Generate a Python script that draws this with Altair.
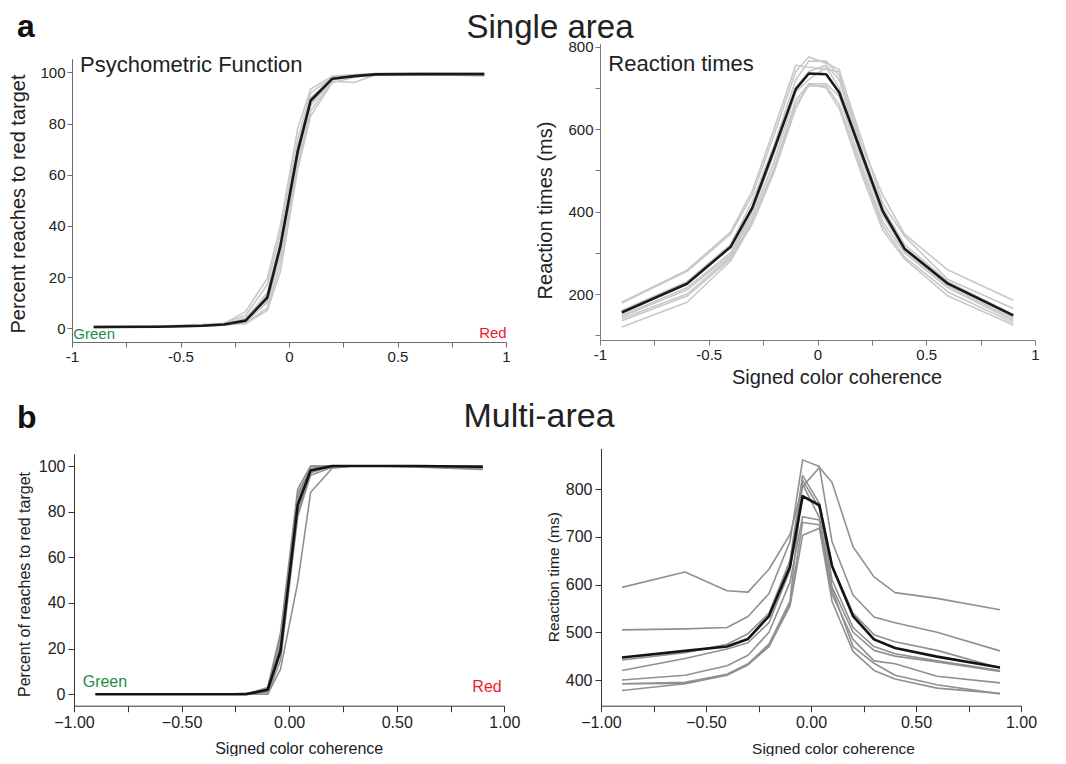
import altair as alt
import pandas as pd

# ---------------- data ----------------
coherence = [-0.9, -0.6, -0.4, -0.3, -0.2, -0.1, -0.04, 0.04, 0.1, 0.2, 0.3, 0.4, 0.6, 0.9]
x_tick_values = [-1, -0.75, -0.5, -0.25, 0, 0.25, 0.5, 0.75, 1]

# a: single area, psychometric function (percent reaches to red target)
psy_single_mean = [0.5, 0.6, 1.0, 1.5, 3.0, 12.0, 32.0, 69.0, 89.0, 97.5, 98.5, 99.2, 99.3, 99.3]
psy_single_s1 = [0.3, 0.5, 1.2, 1.8, 6.5, 19.5, 40.0, 78.0, 93.5, 98.5, 99.0, 99.5, 99.5, 99.6]
psy_single_s2 = [0.8, 0.9, 1.5, 2.0, 5.0, 17.0, 37.0, 74.0, 92.0, 98.0, 99.0, 99.4, 99.5, 99.5]
psy_single_s3 = [0.4, 0.5, 0.9, 1.2, 2.0, 8.0, 25.0, 63.0, 85.0, 96.5, 96.0, 99.0, 99.2, 98.6]
psy_single_s4 = [0.6, 0.7, 1.1, 1.6, 2.5, 10.0, 28.0, 66.0, 87.0, 97.0, 98.5, 99.3, 99.0, 99.2]
psy_single_s5 = [0.5, 0.4, 0.8, 1.3, 3.5, 14.0, 34.0, 71.0, 90.0, 97.5, 98.8, 99.0, 99.4, 99.0]
psy_single_s6 = [0.7, 0.6, 1.0, 1.4, 1.8, 7.0, 22.0, 62.0, 83.0, 96.0, 98.0, 99.2, 99.3, 99.5]
psy_single_s7 = [0.2, 0.6, 0.9, 1.7, 3.0, 11.0, 33.0, 70.0, 89.5, 97.8, 98.6, 99.5, 99.6, 99.4]
psy_single_s8 = [0.5, 0.8, 1.3, 1.5, 4.0, 13.0, 30.0, 68.0, 88.0, 97.2, 98.4, 99.1, 99.2, 98.8]

# a: single area, reaction times (ms)
rt_single_mean = [155, 225, 314, 409, 550, 697, 735, 733, 689, 545, 401, 310, 225, 148]
rt_single_s1 = [180, 258, 350, 450, 600, 755, 750, 745, 740, 580, 420, 340, 235, 165]
rt_single_s2 = [178, 255, 345, 440, 585, 740, 775, 760, 745, 565, 440, 345, 258, 185]
rt_single_s3 = [160, 230, 320, 425, 560, 720, 765, 765, 730, 555, 410, 320, 230, 150]
rt_single_s4 = [148, 215, 300, 400, 540, 700, 740, 755, 720, 540, 395, 310, 225, 145]
rt_single_s5 = [145, 210, 295, 390, 520, 690, 720, 750, 700, 530, 390, 305, 220, 140]
rt_single_s6 = [140, 200, 290, 380, 505, 670, 710, 710, 680, 515, 375, 300, 215, 135]
rt_single_s7 = [135, 195, 285, 375, 500, 660, 705, 705, 660, 505, 365, 290, 205, 130]
rt_single_s8 = [120, 180, 280, 370, 495, 650, 710, 700, 650, 495, 355, 285, 195, 125]

# b: multi-area, psychometric function
psy_multi_mean = [0, 0, 0, 0, 0, 2.0, 19.0, 83.0, 98.0, 100, 100, 100, 100, 99.7]
psy_multi_s1 = [0, 0, 0, 0, 0, 0.0, 11.0, 49.0, 88.5, 99.0, 100, 100, 100, 99.5]
psy_multi_s2 = [0, 0, 0, 0, 0, 3.0, 27.0, 90.0, 100, 100, 100, 100, 100, 99.0]
psy_multi_s3 = [0, 0, 0, 0, 0, 2.0, 22.0, 88.0, 99.0, 100, 100, 100, 100, 100]
psy_multi_s4 = [0, 0, 0, 0, 0, 1.0, 18.0, 80.0, 97.0, 100, 100, 100, 99.5, 98.5]
psy_multi_s5 = [0, 0, 0, 0, 0, 0.0, 15.0, 78.0, 96.0, 99.5, 100, 100, 100, 99.5]
psy_multi_s6 = [0, 0, 0, 0, 0, 2.5, 25.0, 86.0, 100, 100, 100, 100, 100, 100]
psy_multi_s7 = [0, 0, 0, 0, 0.5, 1.5, 20.0, 84.0, 98.0, 100, 100, 100, 100, 99.7]

# b: multi-area, reaction time (ms)
rt_multi_mean = [447, 461, 470, 486, 534, 637, 785, 766, 639, 534, 485, 467, 449, 426]
rt_multi_s1 = [594, 626, 587, 584, 632, 705, 805, 845, 814, 679, 616, 583, 571, 547]
rt_multi_s2 = [505, 507, 510, 533, 581, 690, 861, 847, 690, 578, 532, 520, 500, 461]
rt_multi_s3 = [442, 457, 475, 497, 540, 650, 828, 770, 640, 540, 495, 480, 462, 425]
rt_multi_s4 = [420, 445, 465, 478, 520, 630, 818, 760, 610, 510, 470, 455, 440, 420]
rt_multi_s5 = [400, 410, 430, 452, 500, 605, 742, 735, 595, 500, 462, 450, 438, 418]
rt_multi_s6 = [392, 393, 411, 432, 472, 560, 730, 725, 580, 485, 440, 434, 408, 394]
rt_multi_s7 = [378, 392, 410, 432, 470, 555, 703, 718, 565, 460, 420, 402, 383, 372]
rt_multi_s8 = [392, 395, 412, 434, 475, 565, 810, 740, 590, 470, 435, 410, 390, 371]

FONT = "Liberation Sans"


def long_table(series_list):
    rows = []
    for i, s in enumerate(series_list):
        for c, v in zip(coherence, s):
            rows.append({"coh": c, "val": v, "sid": i})
    return pd.DataFrame(rows)


TOP_X_LABELS = "abs(datum.value) == 0.25 || abs(datum.value) == 0.75 ? '' : '' + datum.value"
BOT_X_LABELS = ("abs(datum.value) == 0.25 || abs(datum.value) == 0.75 ? '' : "
                "(datum.value < 0 ? '\u2212' : '') + format(abs(datum.value), '.2f')")


def panel(gray_series, mean, xs, ys, xaxis, yaxis, gray_color, black_color):
    gray = alt.Chart(long_table(gray_series)).mark_line(
        color=gray_color, strokeWidth=1.6, strokeJoin="round"
    ).encode(
        x=alt.X("coh:Q", scale=xs, axis=xaxis),
        y=alt.Y("val:Q", scale=ys, axis=yaxis),
        detail="sid:N",
    )
    black = alt.Chart(long_table([mean])).mark_line(
        color=black_color, strokeWidth=2.6, strokeJoin="round"
    ).encode(
        x=alt.X("coh:Q", scale=xs, axis=None),
        y=alt.Y("val:Q", scale=ys, axis=None),
        detail="sid:N",
    )
    return [gray, black]


H = 748  # total drawing height (chart coords = page - 8)

# ---- a, left: psychometric ----
tl_x = alt.Scale(domain=[-1, 1], range=[64, 498], nice=False, zero=False)
tl_y = alt.Scale(domain=[-5.3, 105.3], range=[320.3 + 2.56 * 5.3, 320.3 - 2.56 * 105.3], nice=False, zero=False)
tl_xaxis = alt.Axis(orient="bottom", offset=334 - H, values=x_tick_values, labelExpr=TOP_X_LABELS,
                    title=None, labelFontSize=15, tickSize=5, labelPadding=2, labelFlush=False,
                    domainColor="#6a6a6a", tickColor="#6a6a6a", labelColor="#222")
tl_yaxis = alt.Axis(orient="left", offset=-64, values=[0, 20, 40, 60, 80, 100],
                    title="Percent reaches to red target", titleFontSize=20,
                    titleX=-53.5, titleY=195.5, titleAngle=270, titleBaseline="middle", titleAlign="center",
                    labelFontSize=15, tickSize=5, labelPadding=2,
                    domainColor="#6a6a6a", tickColor="#6a6a6a", labelColor="#222")

# ---- a, right: reaction times ----
tr_x = alt.Scale(domain=[-1, 1], range=[592, 1027], nice=False, zero=False)
tr_y = alt.Scale(domain=[88, 808], range=[286 + 0.41217 * 112, 286 - 0.41217 * 608], nice=False, zero=False)
tr_xaxis = alt.Axis(orient="bottom", offset=332 - H, values=x_tick_values, labelExpr=TOP_X_LABELS,
                    title="Signed color coherence", titleFontSize=20, titleX=828.5, titleY=37,
                    titleBaseline="middle", titleAlign="center",
                    labelFontSize=15, tickSize=5, labelPadding=2, labelFlush=False,
                    domainColor="#7a7a7a", tickColor="#7a7a7a", labelColor="#222")
tr_yaxis = alt.Axis(orient="left", offset=-592, values=[100, 200, 300, 400, 500, 600, 700, 800],
                    labelExpr="datum.value % 200 == 0 ? '' + datum.value : ''",
                    title="Reaction times (ms)", titleFontSize=20,
                    titleX=-54.5, titleY=202, titleAngle=270, titleBaseline="middle", titleAlign="center",
                    labelFontSize=15, tickSize=5, labelPadding=2,
                    domainColor="#7a7a7a", tickColor="#7a7a7a", labelColor="#222")

# ---- b, left: psychometric ----
bl_x = alt.Scale(domain=[-1, 1], range=[66, 496.3], nice=False, zero=False)
bl_y = alt.Scale(domain=[-5.1, 105.3], range=[686.3 + 2.283 * 5.1, 686.3 - 2.283 * 105.3], nice=False, zero=False)
bl_xaxis = alt.Axis(orient="bottom", offset=697.7 - H, values=x_tick_values, labelExpr=BOT_X_LABELS,
                    title="Signed color coherence", titleFontSize=16, titleX=290.7, titleY=42.6,
                    titleBaseline="middle", titleAlign="center",
                    labelFontSize=16, tickSize=6, labelPadding=3, labelFlush=False,
                    domainColor="#333", tickColor="#333", labelColor="#222")
bl_yaxis = alt.Axis(orient="left", offset=-66, values=[0, 20, 40, 60, 80, 100],
                    title="Percent of reaches to red target", titleFontSize=16,
                    titleX=-49.8, titleY=576, titleAngle=270, titleBaseline="middle", titleAlign="center",
                    labelFontSize=16, tickSize=6, labelPadding=3,
                    domainColor="#333", tickColor="#333", labelColor="#222")

# ---- b, right: reaction time ----
br_x = alt.Scale(domain=[-1, 1], range=[593, 1013], nice=False, zero=False)
br_y = alt.Scale(domain=[346, 885], range=[672 + 0.4775 * 54, 672 - 0.4775 * 485], nice=False, zero=False)
br_xaxis = alt.Axis(orient="bottom", offset=697.7 - H, values=x_tick_values, labelExpr=BOT_X_LABELS,
                    title="Signed color coherence", titleFontSize=15.5, titleX=825, titleY=42.6,
                    titleBaseline="middle", titleAlign="center",
                    labelFontSize=16, tickSize=6, labelPadding=3, labelFlush=False,
                    domainColor="#333", tickColor="#333", labelColor="#222")
br_yaxis = alt.Axis(orient="left", offset=-593, values=[400, 500, 600, 700, 800],
                    title="Reaction time (ms)", titleFontSize=15.5,
                    titleX=-47.7, titleY=568.7, titleAngle=270, titleBaseline="middle", titleAlign="center",
                    labelFontSize=16, tickSize=6, labelPadding=3,
                    domainColor="#333", tickColor="#333", labelColor="#222")

layers = []
layers += panel([psy_single_s1, psy_single_s2, psy_single_s3, psy_single_s4,
                 psy_single_s5, psy_single_s6, psy_single_s7, psy_single_s8],
                psy_single_mean, tl_x, tl_y, tl_xaxis, tl_yaxis, "#c8c8c8", "#1a1a1a")
layers += panel([rt_single_s1, rt_single_s2, rt_single_s3, rt_single_s4,
                 rt_single_s5, rt_single_s6, rt_single_s7, rt_single_s8],
                rt_single_mean, tr_x, tr_y, tr_xaxis, tr_yaxis, "#c8c8c8", "#1a1a1a")
layers += panel([psy_multi_s1, psy_multi_s2, psy_multi_s3, psy_multi_s4,
                 psy_multi_s5, psy_multi_s6, psy_multi_s7],
                psy_multi_mean, bl_x, bl_y, bl_xaxis, bl_yaxis, "#909090", "#141414")
layers += panel([rt_multi_s1, rt_multi_s2, rt_multi_s3, rt_multi_s4,
                 rt_multi_s5, rt_multi_s6, rt_multi_s7, rt_multi_s8],
                rt_multi_mean, br_x, br_y, br_xaxis, br_yaxis, "#909090", "#141414")

one = pd.DataFrame({"k": [0]})


def label(text, x, y, size, color="#222", align="left", weight="normal", baseline="middle"):
    return alt.Chart(one).mark_text(
        text=text, font=FONT, fontSize=size, color=color, align=align,
        baseline=baseline, fontWeight=weight,
    ).encode(x=alt.value(x), y=alt.value(y))


layers += [
    label("a", 9, 29, 32, color="#111", weight="bold", baseline="alphabetic"),
    label("Single area", 542, 30, 33, align="center", baseline="alphabetic"),
    label("b", 9, 420, 32, color="#111", weight="bold", baseline="alphabetic"),
    label("Multi-area", 531, 419, 34, align="center", baseline="alphabetic"),
    label("Psychometric Function", 72, 57, 22),
    label("Reaction times", 600.3, 56, 22),
    label("Green", 65.3, 326.3, 15, color="#1e8c45"),
    label("Red", 498.7, 325.3, 15, color="#ec1c2c", align="right"),
    label("Green", 74.7, 673.7, 16, color="#1e8c45"),
    label("Red", 493.7, 678.7, 16, color="#ec1c2c", align="right"),
]

chart = alt.layer(*layers).resolve_scale(
    x="independent", y="independent"
).resolve_axis(
    x="independent", y="independent"
).properties(
    width=1050, height=H, autosize="none", padding=0
).configure_view(
    stroke=None
).configure_axis(
    grid=False, labelFont=FONT, titleFont=FONT, titleFontWeight="normal",
    titleColor="#222", labelOverlap=False,
)

chart.save("out.html", embed_options={"renderer": "svg", "actions": False})
